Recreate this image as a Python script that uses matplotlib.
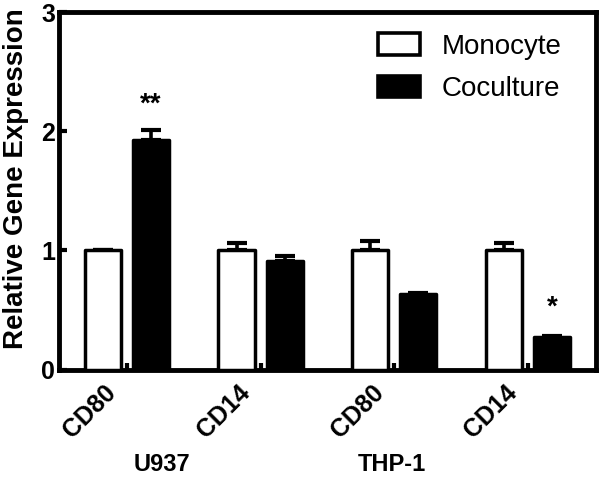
import matplotlib.pyplot as plt
import matplotlib.transforms as mtransforms
from matplotlib.patches import Patch
import numpy as np

genes = ['CD80', 'CD14', 'CD80', 'CD14']
cell_lines = ['U937', 'THP-1']
cell_line_pos = [0.26, 1.98]
monocyte = [1.0, 1.0, 1.0, 1.0]
monocyte_err = [0.0, 0.06, 0.08, 0.06]
coculture = [1.93, 0.91, 0.63, 0.27]
coculture_err = [0.08, 0.04, 0.01, 0.01]
stars = ['**', '', '', '*']
star_y = [2.22, 0, 0, 0.52]

plt.rcParams['font.family'] = ['Liberation Sans', 'DejaVu Sans']

fig = plt.figure(figsize=(6, 4.82), dpi=100)
ax = fig.add_axes([0.099, 0.2334, 0.8935, 0.7417])

x = np.arange(len(genes))
off = 0.18
w = 0.27

#bars with thick black outline
ax.bar(x - off, monocyte, w, color='white', edgecolor='black', linewidth=2.5,
       joinstyle='round', zorder=3)
ax.bar(x + off, coculture, w, color='black', edgecolor='black', linewidth=2.5,
       joinstyle='round', zorder=3)

# only upper error bars
ax.errorbar(x - off, monocyte, yerr=[np.zeros(4), monocyte_err], fmt='none',
            ecolor='black', elinewidth=2.6, capsize=7, capthick=3, zorder=2)
ax.errorbar(x + off, coculture, yerr=[np.zeros(4), coculture_err], fmt='none',
            ecolor='black', elinewidth=2.6, capsize=7, capthick=3, zorder=2)

for i in range(len(genes)):
    if stars[i]:
        ax.text(x[i] + off, star_y[i], stars[i], ha='center', va='center',
                fontsize=20, fontweight='bold')

ax.set_xlim(-0.505, 3.505)
ax.set_ylim(0, 3)
ax.set_yticks([0, 1, 2, 3])
ax.set_yticklabels(['0', '1', '2', '3'], fontsize=18, fontweight='bold')
ax.tick_params(axis='y', direction='in', length=6, width=3, pad=3)

ax.set_xticks(x)
ax.set_xticklabels(genes, fontsize=18, fontweight='bold', rotation=45,
                   ha='right', va='top')
ax.tick_params(axis='x', direction='in', length=5, width=3, pad=8)
shift = mtransforms.ScaledTranslation(-6 / 100, 0, fig.dpi_scale_trans)
for lab in ax.get_xticklabels():
    lab.set_transform(lab.get_transform() + shift)

for s in ax.spines.values():
    s.set_linewidth(3.5)

ax.set_ylabel('Relative Gene Expression', fontsize=20, fontweight='bold')
ax.yaxis.set_label_coords(-0.056, 0.533)

for name, pos in zip(cell_lines, cell_line_pos):
    ax.text(pos, -0.8, name, ha='center', va='center',
            fontsize=17, fontweight='bold')

handles = [Patch(facecolor='white', edgecolor='black', linewidth=2.6, joinstyle='round'),
           Patch(facecolor='black', edgecolor='black', linewidth=2.6, joinstyle='round')]
ax.legend(handles, ['Monocyte', 'Coculture'], loc='upper left',
          bbox_to_anchor=(0.594, 0.94), frameon=False, fontsize=20,
          borderpad=0, borderaxespad=0,
          handlelength=1.5, handleheight=0.8, handletextpad=0.8, labelspacing=0.58)

fig.savefig('out.png', dpi=100)
